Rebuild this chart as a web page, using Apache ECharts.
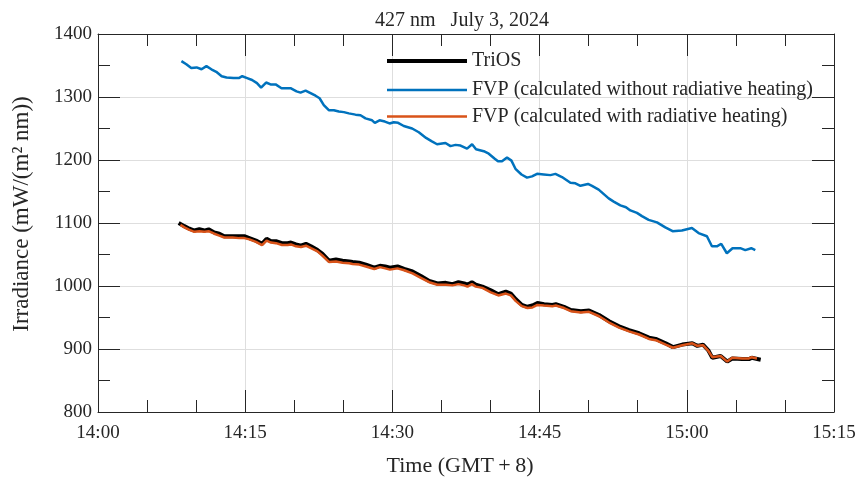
<!DOCTYPE html>
<html>
<head>
<meta charset="utf-8">
<script src="https://cdn.jsdelivr.net/npm/echarts@6/dist/echarts.min.js"></script>
<style>html,body{margin:0;padding:0;background:#fff}#c{width:858px;height:477px}</style>
</head>
<body>
<div id="c"></div>
<script>
// Time in minutes after 14:00 (GMT+8), irradiance in mW/(m^2 nm)
const triosTime = [8.22,8.80,9.31,9.82,10.33,10.84,11.27,11.85,12.36,12.87,13.72,14.40,14.91,15.42,16.10,16.71,17.18,17.63,18.14,18.75,19.32,19.66,20.17,20.68,21.19,21.70,22.37,22.88,23.56,24.25,24.92,25.60,25.94,26.62,27.30,28.15,28.73,29.27,29.75,30.52,31.20,32.05,32.90,33.75,34.59,35.45,36.12,36.73,37.31,37.65,38.10,38.50,39.17,40.03,40.80,41.56,42.07,42.58,43.19,43.76,44.27,44.78,45.46,46.30,46.65,47.49,48.18,49.20,50.04,51.06,52.08,53.10,54.11,55.13,56.15,56.83,57.85,58.59,59.54,60.56,61.07,61.65,62.19,62.60,63.45,64.12,64.63,65.65,66.33,66.61,67.53];
const triosVals = [1100,1095,1091,1088,1090,1088,1090,1085,1083,1079,1079,1079,1079,1076,1072,1067,1075,1071,1071,1068,1068,1069,1066,1064,1067,1063,1057,1051,1040,1042,1040,1039,1038,1037,1034,1029,1032,1031,1029,1031,1027,1023,1016,1008,1004,1005,1003,1006,1004,1002,1006,1002,999,993,987,991,988,979,970,967,969,973,971,970,971,967,962,960,961,954,944,936,930,925,918,916,909,903,907,909,905,907,898,886,889,880,885,884,884,886,883];

const fvpNoHeatTime = [8.50,9.00,9.50,10.05,10.55,11.05,11.55,12.05,12.60,13.10,13.80,14.35,14.70,15.20,15.70,16.20,16.62,17.13,17.58,18.10,18.70,19.62,20.23,20.64,21.15,21.66,22.17,22.58,23.01,23.52,24.03,24.54,25.05,25.56,26.24,26.75,27.26,27.93,28.21,28.69,29.23,29.71,30.14,30.58,31.16,32.01,32.69,33.43,33.98,34.55,35.41,35.92,36.43,36.94,37.61,38.12,38.52,39.31,39.82,40.43,40.76,41.17,41.68,42.13,42.54,43.15,43.72,44.23,44.74,45.42,46.10,46.61,47.28,48.14,48.65,49.16,49.93,50.34,51.02,52.04,52.55,53.23,53.80,54.25,54.92,55.43,56.11,56.96,57.81,58.55,59.50,60.52,61.20,62.05,62.56,63.07,63.51,64.08,64.66,65.45,65.96,66.57,66.98];
const fvpNoHeatVals = [1357,1352,1346,1347,1344,1349,1344,1340,1333,1331,1330,1330,1333,1330,1327,1322,1315,1323,1320,1320,1314,1314,1309,1307,1310,1306,1302,1298,1287,1279,1279,1277,1276,1274,1272,1271,1266,1263,1259,1263,1261,1258,1260,1259,1254,1250,1244,1235,1230,1225,1227,1222,1224,1223,1218,1225,1217,1214,1210,1202,1198,1198,1204,1199,1186,1177,1172,1174,1178,1177,1176,1178,1173,1164,1163,1159,1162,1159,1153,1139,1134,1128,1125,1120,1116,1111,1105,1101,1093,1087,1088,1092,1084,1079,1063,1063,1067,1052,1060,1060,1057,1060,1057];

const fvpHeatTime = [8.40,8.80,9.31,9.82,10.33,10.84,11.27,11.85,12.36,12.87,13.72,14.40,14.91,15.42,16.10,16.71,17.18,17.63,18.14,18.75,19.32,19.66,20.17,20.68,21.19,21.70,22.37,22.88,23.56,24.25,24.92,25.60,25.94,26.62,27.30,28.15,28.73,29.27,29.75,30.52,31.20,32.05,32.90,33.75,34.59,35.45,36.12,36.73,37.31,37.65,38.10,38.50,39.17,40.03,40.80,41.56,42.07,42.58,43.19,43.76,44.27,44.78,45.46,46.30,46.65,47.49,48.18,49.20,50.04,51.06,52.08,53.10,54.11,55.13,56.15,56.83,57.85,58.59,59.54,60.56,61.07,61.65,62.19,62.60,63.45,64.12,64.63,65.65,66.33,66.61,67.15];
const fvpHeatVals = [1097,1093,1089,1086,1087,1086,1087,1083,1080,1077,1077,1076,1076,1074,1070,1065,1072,1069,1068,1065,1065,1066,1063,1062,1064,1060,1055,1048,1038,1039,1037,1036,1035,1034,1031,1027,1030,1028,1026,1028,1025,1020,1013,1006,1002,1002,1001,1003,1001,999,1003,999,997,990,985,988,985,976,968,965,966,970,969,968,969,965,960,958,959,952,942,934,928,923,916,914,907,902,906,909,905,906,897,887,889,880,886,885,885,887,885];

const seriesNames = ['TriOS', 'FVP (calculated without radiative heating)', 'FVP (calculated with radiative heating)'];
const xTickLabels = ['14:00', '14:15', '14:30', '14:45', '15:00', '15:15'];
const yTicks = [800, 900, 1000, 1100, 1200, 1300, 1400];
const titleText = '427 nm   July 3, 2024';

function pairs(t, v) { return t.map((x, i) => [x, v[i]]); }

const FONT = '"Liberation Serif", "Times New Roman", serif';
const INK = '#262626';
const GRID = { left: 98, right: 24, top: 34, bottom: 65, containLabel: false, outerBoundsMode: 'none' };
const X_MIN = 0, X_MAX = 75, Y_MIN = yTicks[0], Y_MAX = yTicks[yTicks.length - 1];

function bareAxis(kind, gridIndex, position, interval, tickLen, opts) {
  const min = kind === 'x' ? X_MIN : Y_MIN;
  const max = kind === 'x' ? X_MAX : Y_MAX;
  return Object.assign({
    type: 'value', gridIndex, position, min, max, interval,
    axisLine: { show: false, onZero: false },
    axisTick: { show: tickLen > 0, inside: true, length: tickLen, lineStyle: { color: INK, width: 1 } },
    axisLabel: { show: false },
    splitLine: { show: false },
    z: 5
  }, opts || {});
}
const frameLine = { show: true, onZero: false, lineStyle: { color: INK, width: 1 } };

const chart = echarts.init(document.getElementById('c'), null, { renderer: 'canvas' });
chart.setOption({
  animation: false,
  backgroundColor: '#fff',
  title: {
    text: titleText, left: 457, top: 6, textAlign: 'center',
    textStyle: { fontFamily: FONT, fontSize: 20, fontWeight: 'normal', color: INK }
  },
  // grid 0: data + main axes, grid 1: minor ticks, grid 2: grid lines (same rectangle)
  grid: [Object.assign({}, GRID), Object.assign({}, GRID), Object.assign({}, GRID)],
  legend: [0, 1, 2].map((i) => ({
    data: [seriesNames[i]],
    left: 387, top: [51, 80, 106.5][i],
    orient: 'vertical', padding: 0,
    icon: 'rect', itemWidth: 80, itemHeight: [4, 2.5, 2.5][i], itemGap: 0,
    selectedMode: false,
    textStyle: { fontFamily: FONT, fontSize: 20, color: INK }
  })),
  xAxis: [
    bareAxis('x', 0, 'bottom', 15, 22, {
      axisLine: frameLine,
      name: 'Time (GMT\u2009+\u20098)', nameLocation: 'middle', nameGap: 43,
      nameTextStyle: { fontFamily: FONT, fontSize: 22, color: INK, padding: [0, 12, 0, 0] },
      axisLabel: {
        show: true, margin: 12, fontFamily: FONT, fontSize: 19, color: INK,
        formatter: (v) => xTickLabels[Math.round(v / 15)]
      }
    }),
    bareAxis('x', 0, 'top', 15, 22, { axisLine: frameLine }),
    bareAxis('x', 1, 'bottom', 5, 12),
    bareAxis('x', 1, 'top', 5, 12),
    bareAxis('x', 2, 'bottom', 15, 0, { z: 0, splitLine: { show: true, lineStyle: { color: '#dedede', width: 1 } } })
  ],
  yAxis: [
    bareAxis('y', 0, 'left', 100, 22, {
      axisLine: frameLine,
      name: 'Irradiance (mW/(m\u00B2 nm))', nameLocation: 'middle', nameGap: 65,
      nameTextStyle: { fontFamily: FONT, fontSize: 23, color: INK, padding: [0, 0, 0, 18] },
      axisLabel: { show: true, margin: 6, fontFamily: FONT, fontSize: 19, color: INK, formatter: (v) => String(v) }
    }),
    bareAxis('y', 0, 'right', 100, 22, { axisLine: frameLine }),
    bareAxis('y', 1, 'left', 50, 12),
    bareAxis('y', 1, 'right', 50, 12),
    bareAxis('y', 2, 'left', 100, 0, { z: 0, splitLine: { show: true, lineStyle: { color: '#dedede', width: 1 } } })
  ],
  series: [
    {
      name: seriesNames[0], type: 'line', data: pairs(triosTime, triosVals),
      xAxisIndex: 0, yAxisIndex: 0, symbol: 'none', z: 2,
      lineStyle: { color: '#000000', width: 4 }, itemStyle: { color: '#000000' }
    },
    {
      name: seriesNames[1], type: 'line', data: pairs(fvpNoHeatTime, fvpNoHeatVals),
      xAxisIndex: 0, yAxisIndex: 0, symbol: 'none', z: 3,
      lineStyle: { color: '#0072BD', width: 2.5 }, itemStyle: { color: '#0072BD' }
    },
    {
      name: seriesNames[2], type: 'line', data: pairs(fvpHeatTime, fvpHeatVals),
      xAxisIndex: 0, yAxisIndex: 0, symbol: 'none', z: 4,
      lineStyle: { color: '#D95319', width: 2.5 }, itemStyle: { color: '#D95319' }
    }
  ]
});
</script>
</body>
</html>
